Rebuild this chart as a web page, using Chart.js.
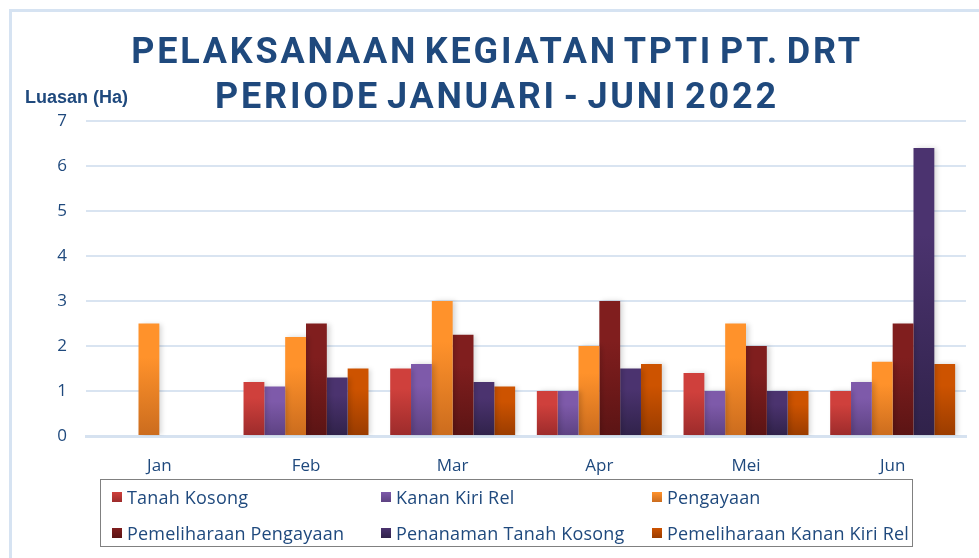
<!DOCTYPE html>
<html>
<head>
<meta charset="utf-8">
<script src="https://cdn.jsdelivr.net/npm/chart.js@4.4.1/dist/chart.umd.min.js"></script>
<style>
  html, body { margin:0; padding:0; background:#fff; }
  #wrap { position:relative; width:979px; height:558px; overflow:hidden; }
  #frame { position:absolute; left:9px; top:9px; right:-10px; bottom:-10px; border-left:3px solid #d6e3f2; border-top:3px solid #d6e3f2; }
  #chart { position:absolute; left:0; top:0; }
  #title { position:absolute; left:0; width:994px; top:29px; text-align:center; font-family:Roboto, sans-serif; font-weight:700; font-size:36px; line-height:45px; color:#1f497d; letter-spacing:2.8px; word-spacing:-5px; }
  #ytitle { position:absolute; left:25px; top:87px; font-family:"Liberation Sans Narrow", sans-serif; font-weight:700; font-size:18px; color:#1f497d; }
  #legend { position:absolute; left:100px; top:479px; width:811px; height:66px; border:1.5px solid #808080; font-family:"Open Sans", sans-serif; font-size:18px; letter-spacing:0.2px; color:#1f497d; }
  .item { position:absolute; display:flex; align-items:center; white-space:nowrap; }
  .sw { width:10px; height:10px; margin-right:5px; }
</style>
</head>
<body>
<div id="wrap">
  <div id="frame"></div>
  <canvas id="chart" width="979" height="558"></canvas>
  <div id="title">PELAKSANAAN KEGIATAN TPTI PT. DRT<br>PERIODE JANUARI - JUNI 2022</div>
  <div id="ytitle">Luasan (Ha)</div>
  <div id="legend"></div>
</div>
<script>
const months = ['Jan','Feb','Mar','Apr','Mei','Jun'];
const tanahKosong          = [null, 1.2, 1.5, 1.0, 1.4, 1.0];
const kananKiriRel         = [null, 1.1, 1.6, 1.0, 1.0, 1.2];
const pengayaan            = [2.5, 2.2, 3.0, 2.0, 2.5, 1.65];
const pemeliharaanPengayaan = [null, 2.5, 2.25, 3.0, 2.0, 2.5];
const penanamanTanahKosong = [null, 1.3, 1.2, 1.5, 1.0, 6.4];
const pemeliharaanKananKiriRel = [null, 1.5, 1.1, 1.6, 1.0, 1.6];
const yTicks = [0,1,2,3,4,5,6,7];

const series = [
  { label:'Tanah Kosong', data:tanahKosong, top:'#cf403c', bottom:'#9c2b2b' },
  { label:'Kanan Kiri Rel', data:kananKiriRel, top:'#7e5aaa', bottom:'#5d4282' },
  { label:'Pengayaan', data:pengayaan, top:'#ff922b', bottom:'#cb6c1e' },
  { label:'Pemeliharaan Pengayaan', data:pemeliharaanPengayaan, top:'#801e1e', bottom:'#5b1414' },
  { label:'Penanaman Tanah Kosong', data:penanamanTanahKosong, top:'#4b336f', bottom:'#30224a' },
  { label:'Pemeliharaan Kanan Kiri Rel', data:pemeliharaanKananKiriRel, top:'#cd5300', bottom:'#9a3c00' }
];

function barFill(s){
  return c => {
    const y = c.chart.scales?.y;
    if(!y || c.raw == null) return s.top;
    const y0 = y.getPixelForValue(0), y1 = y.getPixelForValue(c.raw);
    if(!isFinite(y0) || !isFinite(y1) || y0 === y1) return s.top;
    const g = c.chart.ctx.createLinearGradient(0, y1, 0, y0);
    g.addColorStop(0, s.top); g.addColorStop(0.3, s.top); g.addColorStop(1, s.bottom);
    return g;
  };
}

const barShadow = {
  id:'barShadow',
  beforeDatasetsDraw(chart){ const c = chart.ctx; c.save(); c.shadowColor='rgba(0,0,0,0.16)'; c.shadowBlur=5; c.shadowOffsetX=3; },
  afterDatasetsDraw(chart){ chart.ctx.restore(); }
};

const labelFont = { family:'"Open Sans", sans-serif', size:17 };

new Chart(document.getElementById('chart'), {
  type:'bar',
  data:{ labels:months, datasets:series.map(s => ({ label:s.label, data:s.data, backgroundColor:barFill(s), borderWidth:0, categoryPercentage:0.852, barPercentage:1 })) },
  options:{
    responsive:false, animation:false, devicePixelRatio:1,
    layout:{ padding:{ top:121, left:0, right:13, bottom:80 } },
    plugins:{ legend:{ display:false }, tooltip:{ enabled:false } },
    scales:{
      x:{
        grid:{ display:false },
        border:{ display:true, color:'#d6e2f0', width:3 },
        ticks:{ color:'#1f497d', font:labelFont, padding:12 },
        afterFit: s => { s.height = 42; }
      },
      y:{
        min:0, max:7,
        afterBuildTicks: s => { s.ticks = yTicks.map(v => ({ value:v })); },
        grid:{ color:'#d9e4f1', lineWidth:2, drawTicks:false },
        border:{ display:false },
        ticks:{ color:'#1f497d', font:labelFont, padding:19 },
        afterFit: s => { s.width = 86; }
      }
    }
  },
  plugins:[barShadow]
});

// legend: 3 columns x 2 rows
const legend = document.getElementById('legend');
const colX = [11, 280, 551], rowY = [17, 53];
series.forEach((s, i) => {
  const it = document.createElement('div');
  it.className = 'item';
  it.style.left = colX[i % 3] + 'px';
  it.style.top = (rowY[Math.floor(i / 3)] - 12) + 'px';
  it.style.height = '24px';
  it.innerHTML = `<span class="sw" style="background:linear-gradient(${s.top},${s.bottom})"></span><span>${s.label}</span>`;
  legend.appendChild(it);
});
</script>
</body>
</html>
